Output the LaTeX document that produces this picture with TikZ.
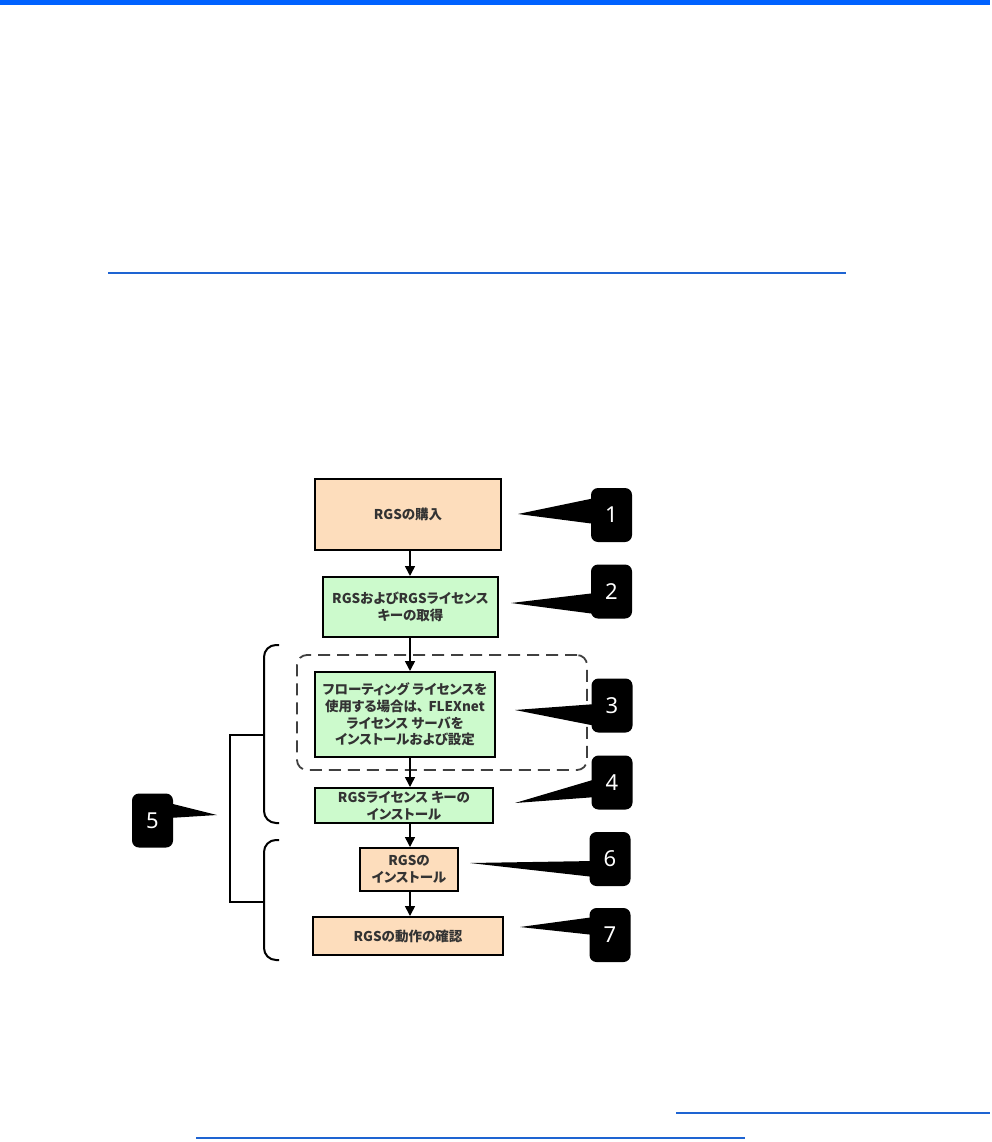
\documentclass[tikz,border=0pt]{standalone}
\usepackage{fontspec}
\newfontfamily\jp[RawFeature=+palt]{Noto Sans CJK JP}
\setsansfont{Noto Sans}
\usetikzlibrary{arrows.meta}
\definecolor{peach}{RGB}{253,221,188}
\definecolor{mint}{RGB}{204,250,204}
\definecolor{hpblue}{RGB}{0,98,255}
\definecolor{linkblue}{RGB}{30,100,210}
\begin{document}
\begin{tikzpicture}[x=1pt,y=-1pt,
  flow/.style={draw=black, line width=2pt, align=center, inner sep=0pt,
    font=\jp\fontsize{13.5}{16.7}\selectfont\bfseries, text=black!80},
  peachbox/.style={flow, fill=peach},
  greenbox/.style={flow, fill=mint},
  callbox/.style={fill=black, rounded corners=7pt, text=white, inner sep=0pt,
    minimum width=41pt, minimum height=54pt, font=\sffamily\fontsize{22}{22}\selectfont},
  wedgefill/.style={fill=black},
  arr/.style={draw=black, line width=1.6pt, -{Triangle[width=10pt,length=10pt]}},
  bracket/.style={draw=black, line width=2pt, rounded corners=12pt},
  stub/.style={draw=black, line width=2pt},
  groupbox/.style={draw=black!75, line width=1.8pt, dash pattern=on 12pt off 7pt, rounded corners=10pt},
  linkline/.style={draw=linkblue, line width=1.1pt}
]
\useasboundingbox (0,0) rectangle (992,1142);
\fill[hpblue] (0,0) rectangle (990,5);
\draw[linkline] (108,273) -- (846,273);
\draw[linkline] (676,1113) -- (990,1113);
\draw[linkline] (196,1138) -- (745,1138);

% dashed group
\node[groupbox, minimum width=290pt, minimum height=115pt] (grp) at (442,712.5) {};

% flow boxes
\node[peachbox, minimum width=186pt, minimum height=71pt] (b1) at (408,514.5) {RGSの購入};
\node[greenbox, minimum width=175pt, minimum height=60pt] (b2) at (410.5,607) {RGSおよびRGSライセンス\\キーの取得};
\node[greenbox, minimum width=180pt, minimum height=85pt] (b3) at (405,714.5) {フローティング ライセンスを\\使用する場合は、\hspace{0.35em}FLEXnet\\ライセンス サーバを\\インストールおよび設定};
\node[greenbox, minimum width=178pt, minimum height=35pt] (b4) at (404,805.5) {RGSライセンス キーの\\インストール};
\node[peachbox, minimum width=98pt, minimum height=43pt] (b6) at (409,869.5) {RGSの\\インストール};
\node[peachbox, minimum width=190pt, minimum height=38pt] (b7) at (408,936) {RGSの動作の確認};

% arrows
\coordinate (ax) at (410,0);
\draw[arr] (b1.south -| ax) -- (b2.north -| ax);
\draw[arr] (b2.south -| ax) -- (b3.north -| ax);
\draw[arr] (b3.south -| ax) -- (b4.north -| ax);
\draw[arr] (b4.south -| ax) -- (b6.north -| ax);
\draw[arr] (b6.south -| ax) -- (b7.north -| ax);

% brackets
\draw[bracket] (279,645) -- (264,645) -- (264,823) -- (279,823);
\draw[bracket] (279,840) -- (264,840) -- (264,960) -- (279,960);
\draw[stub] (264,735) -- (230,735) -- (230,902) -- (264,902);

% callouts
\node[callbox] (c1) at (611.5,515) {1};
\coordinate (t1) at (518,514);
\fill[wedgefill] (t1) -- (595,498) -- (595,524) -- cycle;

\node[callbox] (c2) at (611.5,591.5) {2};
\coordinate (t2) at (511,603);
\fill[wedgefill] (t2) -- (595,593) -- (595,614) -- cycle;

\node[callbox] (c3) at (612,705.5) {3};
\coordinate (t3) at (515,710);
\fill[wedgefill] (t3) -- (596,704) -- (596,726) -- cycle;

\node[callbox] (c4) at (612,782.5) {4};
\coordinate (t4) at (515,803);
\fill[wedgefill] (t4) -- (596,779) -- (596,797) -- cycle;

\node[callbox] (c5) at (152.5,820.5) {5};
\coordinate (t5) at (217,815);
\fill[wedgefill] (t5) -- (169,803) -- (169,818) -- cycle;

\node[callbox] (c6) at (610,859) {6};
\coordinate (t6) at (470,863);
\fill[wedgefill] (t6) -- (594,861) -- (594,877) -- cycle;

\node[callbox] (c7) at (610,935) {7};
\coordinate (t7) at (520,927);
\fill[wedgefill] (t7) -- (594,917) -- (594,935) -- cycle;
\end{tikzpicture}
\end{document}
